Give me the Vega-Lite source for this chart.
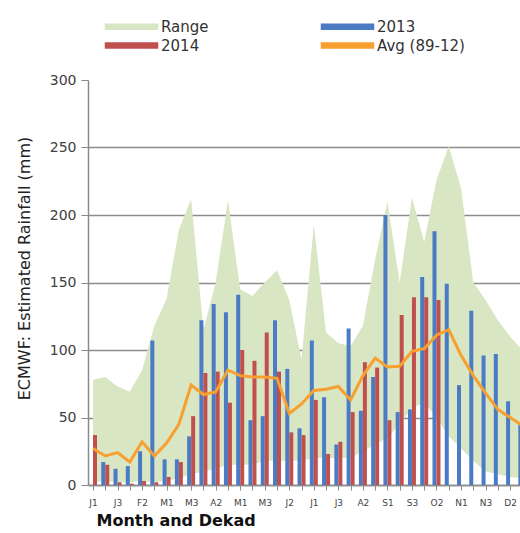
{
  "$schema": "https://vega.github.io/schema/vega-lite/v6.json",
  "width": 432,
  "height": 405,
  "autosize": {"type": "none"},
  "padding": {"left": 88, "top": 80, "right": 0, "bottom": 48},
  "background": "white",
  "config": {"font": "DejaVu Sans", "view": {"stroke": null}},
  "data": {
    "values": [
      {"i": 1, "dekad": "J1", "rmin": 2, "rmax": 78, "y2013": null, "y2014": 37, "avg": 27},
      {"i": 2, "dekad": "J2", "rmin": 3, "rmax": 80, "y2013": 17, "y2014": 15, "avg": 21.5},
      {"i": 3, "dekad": "J3", "rmin": 2, "rmax": 73, "y2013": 12, "y2014": 2, "avg": 24},
      {"i": 4, "dekad": "F1", "rmin": 2, "rmax": 69, "y2013": 14, "y2014": 1, "avg": 17},
      {"i": 5, "dekad": "F2", "rmin": 3, "rmax": 85, "y2013": 25, "y2014": 3, "avg": 32},
      {"i": 6, "dekad": "F3", "rmin": 2, "rmax": 118, "y2013": 107, "y2014": 2, "avg": 21.5},
      {"i": 7, "dekad": "M1", "rmin": 3, "rmax": 138, "y2013": 19, "y2014": 6, "avg": 31},
      {"i": 8, "dekad": "M2", "rmin": 5, "rmax": 189, "y2013": 19, "y2014": 17, "avg": 45},
      {"i": 9, "dekad": "M3", "rmin": 8, "rmax": 212, "y2013": 36, "y2014": 51, "avg": 74},
      {"i": 10, "dekad": "A1", "rmin": 10, "rmax": 115, "y2013": 122, "y2014": 83, "avg": 67},
      {"i": 11, "dekad": "A2", "rmin": 12, "rmax": 150, "y2013": 134, "y2014": 84, "avg": 69},
      {"i": 12, "dekad": "A3", "rmin": 15, "rmax": 211, "y2013": 128, "y2014": 61, "avg": 85},
      {"i": 13, "dekad": "M1", "rmin": 15, "rmax": 145, "y2013": 141, "y2014": 100, "avg": 81},
      {"i": 14, "dekad": "M2", "rmin": 15, "rmax": 140, "y2013": 48, "y2014": 92, "avg": 80},
      {"i": 15, "dekad": "M3", "rmin": 18, "rmax": 150, "y2013": 51, "y2014": 113, "avg": 80},
      {"i": 16, "dekad": "J1", "rmin": 18, "rmax": 159, "y2013": 122, "y2014": 84, "avg": 79},
      {"i": 17, "dekad": "J2", "rmin": 18, "rmax": 137, "y2013": 86, "y2014": 39, "avg": 53},
      {"i": 18, "dekad": "J3", "rmin": 18, "rmax": 93, "y2013": 42, "y2014": 37, "avg": 60},
      {"i": 19, "dekad": "J1", "rmin": 20, "rmax": 193, "y2013": 107, "y2014": 63, "avg": 70},
      {"i": 20, "dekad": "J2", "rmin": 20, "rmax": 113, "y2013": 65, "y2014": 23, "avg": 71},
      {"i": 21, "dekad": "J3", "rmin": 20, "rmax": 105, "y2013": 30, "y2014": 32, "avg": 73},
      {"i": 22, "dekad": "A1", "rmin": 20, "rmax": 103, "y2013": 116, "y2014": 54, "avg": 63},
      {"i": 23, "dekad": "A2", "rmin": 25, "rmax": 118, "y2013": 55, "y2014": 91, "avg": 81},
      {"i": 24, "dekad": "A3", "rmin": 30, "rmax": 167, "y2013": 80, "y2014": 87, "avg": 94},
      {"i": 25, "dekad": "S1", "rmin": 35, "rmax": 210, "y2013": 200, "y2014": 48, "avg": 87.5},
      {"i": 26, "dekad": "S2", "rmin": 45, "rmax": 150, "y2013": 54, "y2014": 126, "avg": 88},
      {"i": 27, "dekad": "S3", "rmin": 57, "rmax": 213, "y2013": 56, "y2014": 139, "avg": 99},
      {"i": 28, "dekad": "O1", "rmin": 61, "rmax": 180, "y2013": 154, "y2014": 139, "avg": 101},
      {"i": 29, "dekad": "O2", "rmin": 50, "rmax": 226, "y2013": 188, "y2014": 137, "avg": 111},
      {"i": 30, "dekad": "O3", "rmin": 36, "rmax": 251, "y2013": 149, "y2014": null, "avg": 115},
      {"i": 31, "dekad": "N1", "rmin": 27, "rmax": 220, "y2013": 74, "y2014": null, "avg": 96},
      {"i": 32, "dekad": "N2", "rmin": 18, "rmax": 150, "y2013": 129, "y2014": null, "avg": 81},
      {"i": 33, "dekad": "N3", "rmin": 10, "rmax": 137, "y2013": 96, "y2014": null, "avg": 68},
      {"i": 34, "dekad": "D1", "rmin": 8, "rmax": 122, "y2013": 97, "y2014": null, "avg": 56},
      {"i": 35, "dekad": "D2", "rmin": 6, "rmax": 110, "y2013": 62, "y2014": null, "avg": 50},
      {"i": 36, "dekad": "D3", "rmin": 5, "rmax": 100, "y2013": 45, "y2014": null, "avg": 44}
    ]
  },
  "encoding": {
    "x": {
      "field": "i",
      "type": "quantitative",
      "scale": {"domain": [1, 35.4], "nice": false, "zero": false},
      "axis": {
        "title": "Month and Dekad",
        "values": [1,2,3,4,5,6,7,8,9,10,11,12,13,14,15,16,17,18,19,20,21,22,23,24,25,26,27,28,29,30,31,32,33,34,35],
        "labelExpr": "datum.value % 2 == 1 ? ['J1','J2','J3','F1','F2','F3','M1','M2','M3','A1','A2','A3','M1','M2','M3','J1','J2','J3','J1','J2','J3','A1','A2','A3','S1','S2','S3','O1','O2','O3','N1','N2','N3','D1','D2','D3'][datum.value - 1] : ''",
        "grid": false,
        "domainColor": "#8a8a8a",
        "domainWidth": 1.5,
        "tickColor": "#8a8a8a",
        "tickSize": 5,
        "labelFontSize": 9,
        "labelColor": "#444444",
        "labelPadding": 8,
        "labelOverlap": false,
        "labelFlush": false,
        "titleFontSize": 16,
        "titleFontWeight": "bold",
        "titleColor": "#111111",
        "titleAnchor": "start",
        "titleAlign": "left",
        "titleBaseline": "alphabetic",
        "titleX": 8,
        "titleY": 40
      }
    }
  },
  "layer": [
    {
      "mark": {"type": "area", "clip": true, "opacity": 1},
      "encoding": {
        "y": {
          "field": "rmax",
          "type": "quantitative",
          "title": "ECMWF: Estimated Rainfall (mm)",
          "scale": {"domain": [0, 300], "nice": false},
          "axis": {
            "values": [0, 50, 100, 150, 200, 250, 300],
            "grid": true,
            "gridColor": "#8c8c8c",
            "gridWidth": 1.5,
            "gridOpacity": {"condition": {"test": "datum.value === 300", "value": 0}, "value": 1},
            "domainColor": "#8a8a8a",
            "domainWidth": 1.5,
            "tickColor": "#8a8a8a",
            "tickSize": 7,
            "labelFontSize": 14,
            "labelColor": "#404040",
            "labelPadding": 5,
            "titleFontSize": 16,
            "titleFontWeight": "normal",
            "titleColor": "#222222",
            "titleBaseline": "alphabetic",
            "titleAnchor": "middle",
            "titleX": -59,
            "titleY": 188
          }
        },
        "y2": {"field": "rmin"},
        "color": {
          "datum": "Range",
          "scale": {
            "domain": ["Range", "2014", "2013", "Avg (89-12)"],
            "range": ["#d8e6c3", "#c0504d", "#4a7bc4", "#f7a030"]
          },
          "legend": {
            "title": null,
            "orient": "none",
            "legendX": 0,
            "legendY": -61,
            "columns": 2,
            "columnPadding": 95,
            "rowPadding": 3,
            "padding": 0,
            "symbolSize": 108,
            "symbolType": "M-5,-0.48H5V0.48H-5Z",
            "symbolOffset": 36,
            "labelOffset": 22,
            "labelFontSize": 15,
            "labelFont": "DejaVu Sans",
            "labelColor": "#333333",
            "encode": {
              "symbols": {
                "shape": {"value": {"expr": "datum.label === 'Range' ? 'M-5,-1.06H5V1.06H-5Z' : (datum.label === 'Avg (89-12)' ? 'M-5,-0.24H5V0.24H-5Z' : 'M-5,-0.48H5V0.48H-5Z')"}},
                "fill": {"value": {"expr": "scale('color', datum.value)"}},
                "strokeWidth": {"value": 0},
                "opacity": {"value": 1},
                "fillOpacity": {"value": 1}
              }
            }
          }
        }
      }
    },
    {
      "mark": {"type": "bar", "width": 4, "xOffset": -2, "clip": true},
      "encoding": {
        "y": {"field": "y2013", "type": "quantitative", "title": "ECMWF: Estimated Rainfall (mm)"},
        "color": {"datum": "2013"}
      }
    },
    {
      "mark": {"type": "bar", "width": 4, "xOffset": 2, "clip": true},
      "encoding": {
        "y": {"field": "y2014", "type": "quantitative", "title": "ECMWF: Estimated Rainfall (mm)"},
        "color": {"datum": "2014"}
      }
    },
    {
      "mark": {"type": "line", "strokeWidth": 3, "clip": true},
      "encoding": {
        "y": {"field": "avg", "type": "quantitative", "title": "ECMWF: Estimated Rainfall (mm)"},
        "color": {"datum": "Avg (89-12)"}
      }
    }
  ]
}
